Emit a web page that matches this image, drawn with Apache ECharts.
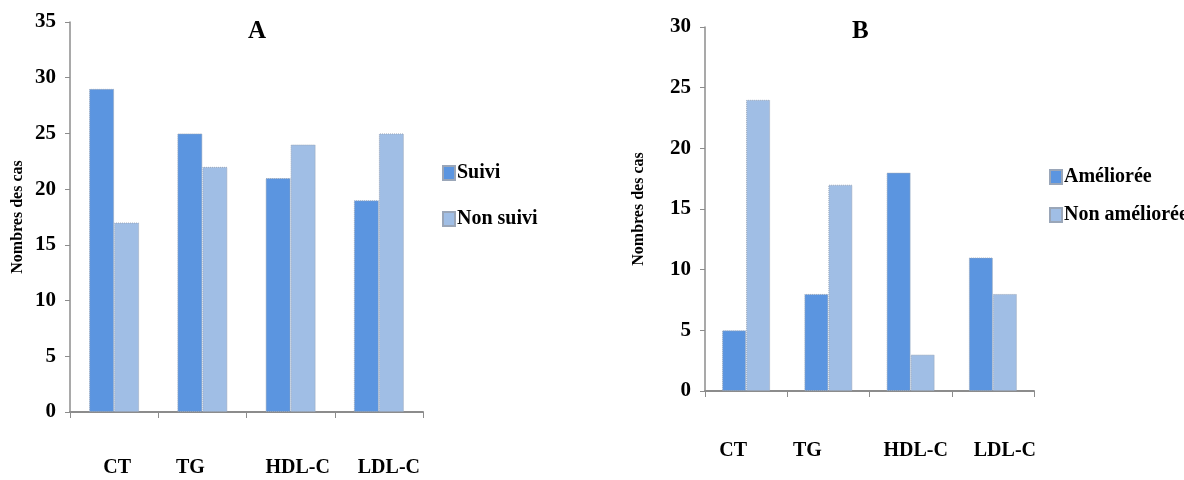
<!DOCTYPE html>
<html>
<head>
<meta charset="utf-8">
<script src="https://cdn.jsdelivr.net/npm/echarts@6/dist/echarts.min.js"></script>
<style>html,body{margin:0;padding:0;background:#fff;}#c{width:1184px;height:480px;}</style>
</head>
<body>
<div id="c"></div>
<script>
const categories = ['CT', 'TG', 'HDL-C', 'LDL-C'];
const seriesNamesA = ['Suivi', 'Non suivi'];
const suivi = [29, 25, 21, 19];
const nonSuivi = [17, 22, 24, 25];
const seriesNamesB = ['Améliorée', 'Non améliorée'];
const amelioree = [5, 8, 18, 11];
const nonAmelioree = [24, 17, 3, 8];
const yTitle = 'Nombres des cas';

const FONT = '"Liberation Serif", "Times New Roman", serif';
const DARK = '#5B95E0';
const LIGHT = '#A0BEE5';
const axisGray = '#8c8c8c';

function barStyle(c) {
  return { color: c, borderColor: '#9aa6b8', borderWidth: 1, borderType: 'dotted' };
}
function yAxis(idx, max, nameGap) {
  return {
    gridIndex: idx, type: 'value', min: 0, max: max, interval: 5,
    name: yTitle, nameLocation: 'middle', nameGap: nameGap, nameRotate: 90,
    nameTextStyle: { fontFamily: FONT, fontWeight: 'bold', fontSize: 16, color: '#000' },
    axisLine: { show: true, lineStyle: { color: axisGray, width: 1.5 } },
    axisTick: { show: true, length: 5, lineStyle: { color: axisGray } },
    axisLabel: { fontFamily: FONT, fontWeight: 'bold', fontSize: 21, color: '#000', margin: 14 },
    splitLine: { show: false }
  };
}
// per-label horizontal shifts (px) to mimic the reference's label placement
function xAxis(idx, margin, shifts) {
  const rich = {};
  shifts.forEach((s, i) => {
    rich['o' + i] = {
      fontFamily: FONT, fontWeight: 'bold', fontSize: 20, color: '#000',
      padding: s >= 0 ? [0, 0, 0, 2 * s] : [0, -2 * s, 0, 0]
    };
  });
  return {
    gridIndex: idx, type: 'category', data: categories, boundaryGap: true,
    axisLine: { show: true, lineStyle: { color: axisGray, width: 2 } },
    axisTick: { show: true, length: 6, alignWithLabel: false, lineStyle: { color: axisGray } },
    axisLabel: {
      fontFamily: FONT, fontWeight: 'bold', fontSize: 20, color: '#000', margin: margin, interval: 0,
      formatter: (v, i) => '{o' + i + '|' + v + '}', rich: rich
    }
  };
}

const chart = echarts.init(document.getElementById('c'));
chart.setOption({
  animation: false,
  backgroundColor: '#fff',
  title: [
    { text: 'A', left: 243, top: 14, textStyle: { fontFamily: FONT, fontWeight: 'bold', fontSize: 25, color: '#000' } },
    { text: 'B', left: 847, top: 14, textStyle: { fontFamily: FONT, fontWeight: 'bold', fontSize: 25, color: '#000' } }
  ],
  grid: [
    { left: 70, top: 22, width: 353, height: 390 },
    { left: 705, top: 27, width: 329, height: 364 }
  ],
  xAxis: [xAxis(0, 46, [3, -12, 7, 10]), xAxis(1, 50, [-13, -21, 5, 12])],
  yAxis: [yAxis(0, 35, 44), yAxis(1, 30, 58)],
  legend: [
    { data: seriesNamesA, orient: 'vertical', left: 437, top: 158, itemWidth: 12, itemHeight: 14, itemGap: 26, icon: 'rect',
      textStyle: { fontFamily: FONT, fontWeight: 'bold', fontSize: 20, color: '#000', padding: [0, 0, 0, -3] } },
    { data: seriesNamesB, orient: 'vertical', left: 1044, top: 162, itemWidth: 12, itemHeight: 14, itemGap: 18, icon: 'rect',
      textStyle: { fontFamily: FONT, fontWeight: 'bold', fontSize: 20, color: '#000', padding: [0, 0, 0, -3] } }
  ],
  series: [
    { name: seriesNamesA[0], type: 'bar', xAxisIndex: 0, yAxisIndex: 0, data: suivi, barWidth: 25, barGap: '0%', itemStyle: barStyle(DARK) },
    { name: seriesNamesA[1], type: 'bar', xAxisIndex: 0, yAxisIndex: 0, data: nonSuivi, barWidth: 25, barGap: '0%', itemStyle: barStyle(LIGHT) },
    { name: seriesNamesB[0], type: 'bar', xAxisIndex: 1, yAxisIndex: 1, data: amelioree, barWidth: 24, barGap: '0%', itemStyle: barStyle(DARK) },
    { name: seriesNamesB[1], type: 'bar', xAxisIndex: 1, yAxisIndex: 1, data: nonAmelioree, barWidth: 24, barGap: '0%', itemStyle: barStyle(LIGHT) }
  ]
});
</script>
</body>
</html>
